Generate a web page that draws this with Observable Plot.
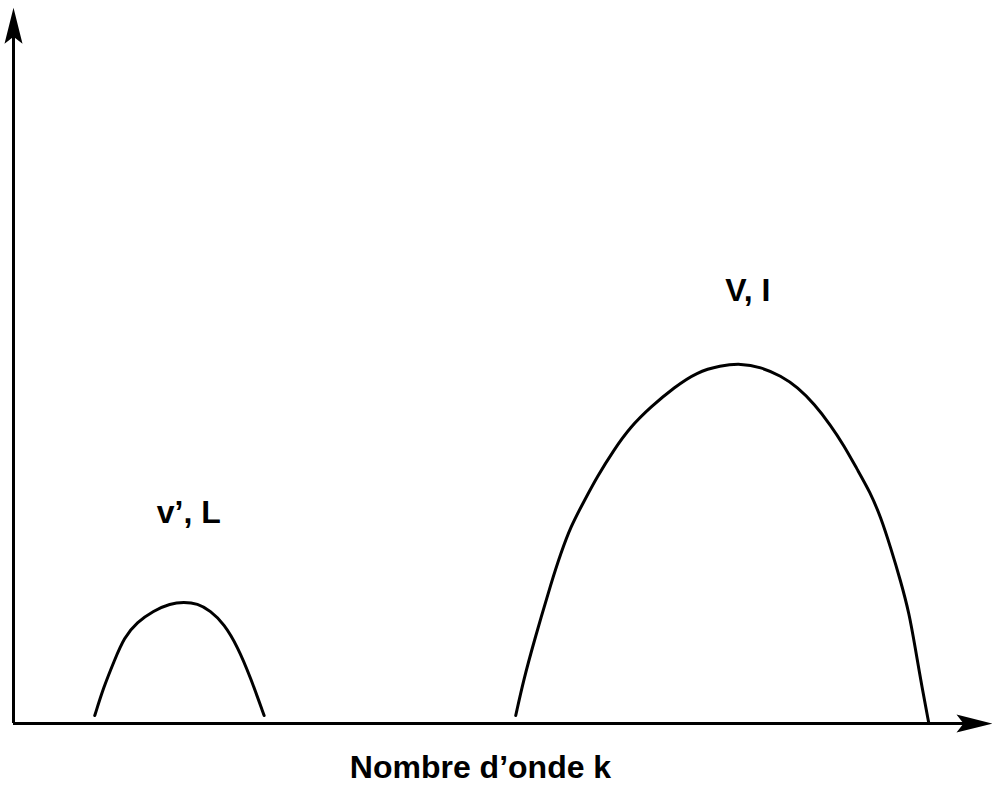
<!DOCTYPE html>
<html>
<head>
<meta charset="utf-8">
<script src="https://cdn.jsdelivr.net/npm/d3@7"></script>
<script src="https://cdn.jsdelivr.net/npm/@observablehq/plot@0.6"></script>
<style>
  html, body { margin: 0; padding: 0; background: #fff; }
  #chart svg { display: block; }
</style>
</head>
<body>
<div id="chart"></div>
<script>
// Small branch (v', L)
const smallK = [0.83, 0.92, 1.03, 1.13, 1.26, 1.43, 1.60, 1.74, 1.88, 2.01, 2.15, 2.29, 2.42, 2.56];
const smallE = [0.11, 0.50, 0.87, 1.19, 1.40, 1.56, 1.66, 1.68, 1.66, 1.56, 1.38, 1.06, 0.64, 0.11];
// Large branch (V, I)
const largeK = [5.13, 5.21, 5.32, 5.50, 5.59, 5.69, 5.83, 5.96, 6.13, 6.30, 6.51, 6.75, 6.98, 7.22, 7.43, 7.63, 7.84, 8.01, 8.18, 8.35, 8.48, 8.62, 8.75, 8.86, 8.96, 9.06, 9.15, 9.21, 9.28, 9.35];
const largeE = [0.11, 0.60, 1.15, 1.98, 2.35, 2.72, 3.08, 3.41, 3.78, 4.10, 4.38, 4.65, 4.86, 4.95, 4.98, 4.93, 4.81, 4.65, 4.42, 4.12, 3.85, 3.51, 3.20, 2.85, 2.43, 1.98, 1.52, 1.05, 0.50, 0.00];
// Labels
const labelText = ["v\u2019, L", "V, I"];
const labelK = [1.79, 7.50];
const labelE = [2.91, 5.99];
const xTitle = "Nombre d\u2019onde k";
const xTitleK = 4.77;
// Axis extents
const xAxisEnd = 10.0;
const yAxisEnd = 9.9;

const small = smallK.map((k, i) => ({k, e: smallE[i]}));
const large = largeK.map((k, i) => ({k, e: largeE[i]}));
const labels = labelText.map((t, i) => ({t, k: labelK[i], e: labelE[i]}));

// Notched filled arrowhead pointing up, tip at origin
const arrowHead = {
  draw(context) {
    context.moveTo(0, 0);
    context.lineTo(9, 36);
    context.lineTo(0, 29);
    context.lineTo(-9, 36);
    context.closePath();
  }
};

const font = "'Liberation Sans', Arial, Helvetica, sans-serif";

const chart = Plot.plot({
  width: 992,
  height: 785,
  marginLeft: 13,
  marginRight: 0,
  marginTop: 0,
  marginBottom: 62,
  style: {fontFamily: font, background: "#fff"},
  x: {domain: [0, 10], axis: null},
  y: {domain: [0, 10], axis: null},
  marks: [
    Plot.ruleX([0], {y1: 0, y2: yAxisEnd - 0.3, stroke: "#000", strokeWidth: 3}),
    Plot.ruleY([0], {x1: 0, x2: xAxisEnd - 0.2, stroke: "#000", strokeWidth: 3}),
    Plot.dot([{k: 0, e: yAxisEnd}], {x: "k", y: "e", symbol: arrowHead, fill: "#000", stroke: null, r: 5}),
    Plot.dot([{k: xAxisEnd, e: 0}], {x: "k", y: "e", symbol: arrowHead, fill: "#000", stroke: null, r: 5, rotate: 90}),
    Plot.line(small, {x: "k", y: "e", curve: "basis", stroke: "#000", strokeWidth: 3}),
    Plot.line(large, {x: "k", y: "e", curve: "basis", stroke: "#000", strokeWidth: 3}),
    Plot.text(labels, {x: "k", y: "e", text: "t", fontSize: 32, fontWeight: "bold", fill: "#000"}),
    Plot.text([xTitle], {x: xTitleK, y: 0, text: d => d, dy: 44, fontSize: 32, fontWeight: "bold", fill: "#000"})
  ]
});
document.getElementById("chart").appendChild(chart);
</script>
</body>
</html>
